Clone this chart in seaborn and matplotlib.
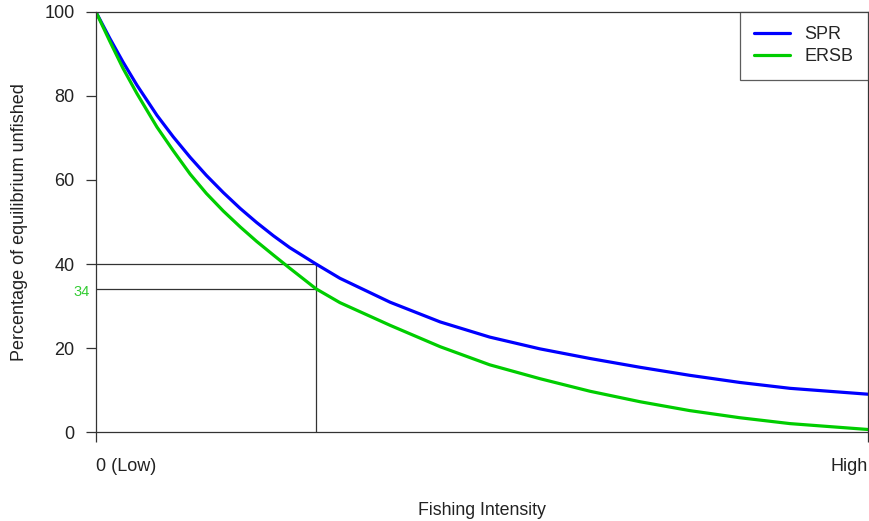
import pandas as pd
import matplotlib.pyplot as plt
import seaborn as sns

# Values (x = fraction of fishing intensity, 0 = low, 1 = high)
intensity = [0.0, 0.018, 0.035, 0.053, 0.079, 0.100, 0.122, 0.143, 0.165, 0.187,
             0.208, 0.230, 0.251, 0.285, 0.316, 0.381, 0.446, 0.510, 0.575, 0.640,
             0.705, 0.769, 0.834, 0.899, 1.0]
spr = [100, 93.7, 88.1, 82.6, 75.4, 70.3, 65.4, 61.1, 57.0, 53.2,
       49.9, 46.7, 43.9, 40.0, 36.6, 30.9, 26.2, 22.6, 19.8, 17.5,
       15.4, 13.5, 11.8, 10.4, 9.0]
ersb = [100, 93.0, 86.6, 80.6, 72.6, 67.0, 61.4, 56.8, 52.6, 48.8,
        45.4, 42.1, 39.0, 34.1, 30.8, 25.4, 20.3, 16.0, 12.7, 9.7,
        7.2, 5.1, 3.4, 2.0, 0.6]

ref_x = 0.285
spr_target = 40
ersb_at_target = 34

x_ticks = [0.0, 1.0]
x_ticklabels = ['0 (Low)', 'High']
y_ticks = [0, 20, 40, 60, 80, 100]

df = pd.DataFrame({'Intensity': intensity, 'SPR': spr, 'ERSB': ersb})
df_long = df.melt(id_vars='Intensity', var_name='Series', value_name='Percent')

sns.set_style('ticks')
plt.rcParams['font.family'] = ['Liberation Sans', 'DejaVu Sans']

fig = plt.figure(figsize=(8.7, 5.21), dpi=100)
ax = fig.add_axes([0.1103, 0.1708, 0.8874, 0.8062])

sns.lineplot(data=df_long, x='Intensity', y='Percent', hue='Series',
             palette={'SPR': '#0000FF', 'ERSB': '#00CD00'}, linewidth=2.3,
             ax=ax, legend=True)

# reference lines
ax.plot([0, ref_x], [spr_target, spr_target], color='#333333', lw=0.9, zorder=1)
ax.plot([0, ref_x], [ersb_at_target, ersb_at_target], color='#333333', lw=0.9, zorder=1)
ax.plot([ref_x, ref_x], [0, spr_target], color='#333333', lw=0.9, zorder=1)
ax.text(-0.008, ersb_at_target - 0.6, str(ersb_at_target), color='#33CC33', fontsize=10.5,
        ha='right', va='center')

ax.set_xlim(0, 1)
ax.set_ylim(0, 100)
ax.set_xticks(x_ticks)
ax.set_xticklabels(x_ticklabels, fontsize=13, color='#222222')
for lbl, ha in zip(ax.get_xticklabels(), ['left', 'right']):
    lbl.set_horizontalalignment(ha)
ax.set_yticks(y_ticks)
ax.set_yticklabels([str(v) for v in y_ticks], fontsize=13, color='#222222')
ax.tick_params(axis='both', direction='out', length=7.5, width=0.9, color='#333333')
ax.tick_params(axis='x', pad=11)
ax.tick_params(axis='y', pad=8)

for s in ax.spines.values():
    s.set_visible(True)
    s.set_color('#333333')
    s.set_linewidth(0.9)

ax.set_xlabel('Fishing Intensity', fontsize=12.8, color='#222222', labelpad=20)
ax.set_ylabel('Percentage of equilibrium unfished', fontsize=13, color='#222222', labelpad=12)

leg = ax.legend(loc='upper right', fontsize=13, frameon=True, fancybox=False,
                borderaxespad=0, handlelength=2.0, handletextpad=0.8,
                borderpad=0.8, labelspacing=0.26)
leg.get_frame().set_edgecolor('#333333')
leg.get_frame().set_linewidth(0.9)
for line in leg.get_lines():
    line.set_linewidth(2.3)

fig.savefig('out.png', dpi=100)
